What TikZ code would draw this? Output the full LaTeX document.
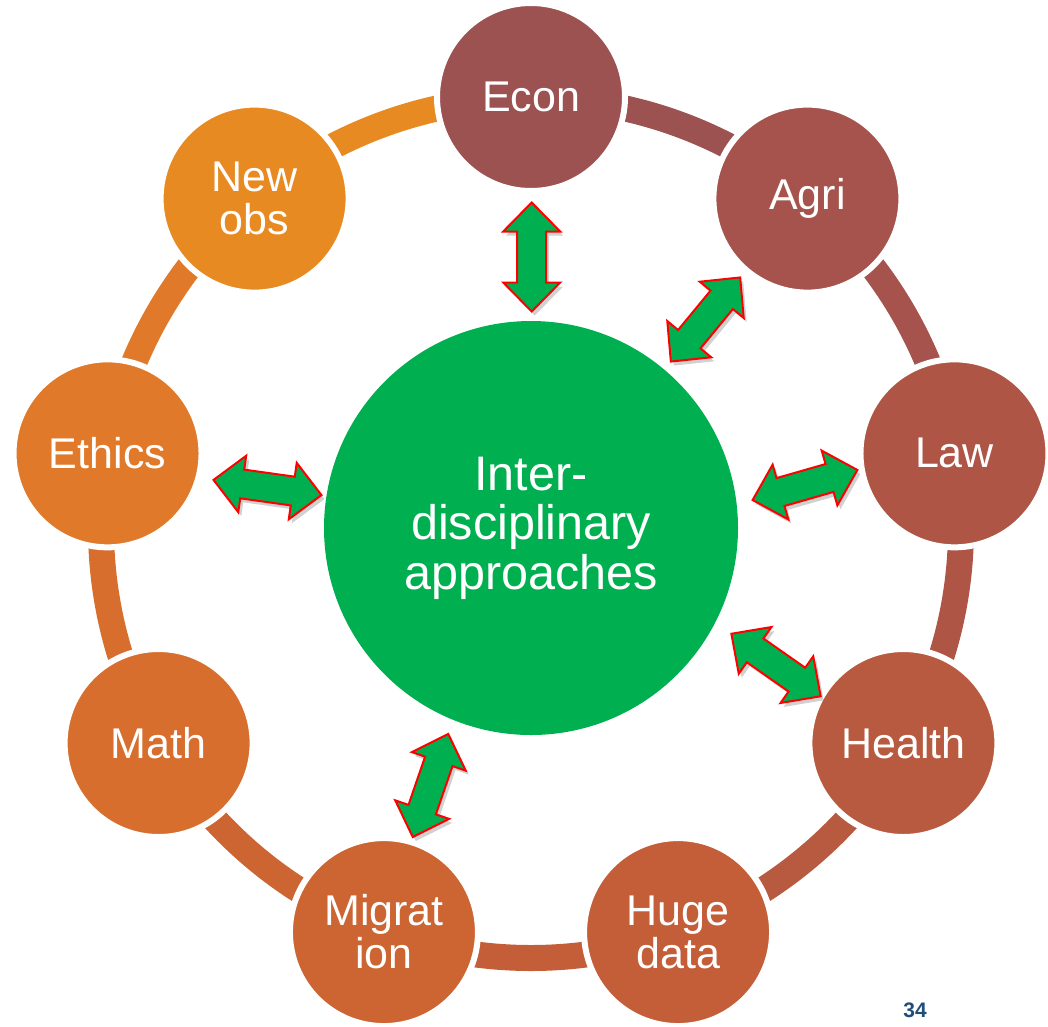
\documentclass[tikz,border=0pt]{standalone}
\usepackage{fontspec}
\setmainfont{Liberation Sans}
\definecolor{cEcon}{HTML}{9D5252}
\definecolor{cAgri}{HTML}{A5534C}
\definecolor{cLaw}{HTML}{AE5546}
\definecolor{cHealth}{HTML}{B85A40}
\definecolor{cHuge}{HTML}{C35E38}
\definecolor{cMigr}{HTML}{CC6532}
\definecolor{cMath}{HTML}{D76E2D}
\definecolor{cEthics}{HTML}{E07A2A}
\definecolor{cNewobs}{HTML}{E88A22}
\definecolor{cCenter}{HTML}{00B050}
\definecolor{cPage}{HTML}{1F4E79}
\tikzset{
  ringseg/.style={line width=26pt},
  outer/.style={circle, minimum size=188pt, inner sep=0pt, draw=white, line width=6pt,
    text=white, align=center, font=\fontsize{43}{43}\selectfont},
  hub/.style={circle, minimum size=414pt, inner sep=0pt, fill=cCenter,
    text=white, align=center, font=\fontsize{48.5}{49.5}\selectfont},
  dblpath/.style={insert path={(54.5,0) -- (25.5,28.5) -- (25.5,14.5) -- (-25.5,14.5) -- (-25.5,28.5) -- (-54.5,0) -- (-25.5,-28.5) -- (-25.5,-14.5) -- (25.5,-14.5) -- (25.5,-28.5) -- cycle}},
  blockarrow/.style={fill=cCenter, draw=red, line width=2pt, line join=miter},
  arrowshadow/.style={fill=black, opacity=0.18, draw=none},
  pagenum/.style={text=cPage, font=\fontsize{21}{22}\selectfont\bfseries, inner sep=0pt}
}
\begin{document}
\begin{tikzpicture}[x=1pt, y=1pt]
\useasboundingbox (0,0) rectangle (1048,-1026);
\coordinate (O) at (531,-528);
\begin{scope}[shift={(531,-528)}]
  \coordinate (pEcon) at (90:430);
  \coordinate (pAgri) at (50:430);
  \coordinate (pLaw) at (10:430);
  \coordinate (pHealth) at (-30:430);
  \coordinate (pHuge) at (-70:430);
  \coordinate (pMigr) at (-110:430);
  \coordinate (pMath) at (-150:430);
  \coordinate (pEthics) at (170:430);
  \coordinate (pNewobs) at (130:430);
\end{scope}
% ring segments
\draw[ringseg, cEcon] (pEcon) arc[start angle=90, end angle=50, radius=430pt];
\draw[ringseg, cAgri] (pAgri) arc[start angle=50, end angle=10, radius=430pt];
\draw[ringseg, cLaw] (pLaw) arc[start angle=10, end angle=-30, radius=430pt];
\draw[ringseg, cHealth] (pHealth) arc[start angle=-30, end angle=-70, radius=430pt];
\draw[ringseg, cHuge] (pHuge) arc[start angle=-70, end angle=-110, radius=430pt];
\draw[ringseg, cMigr] (pMigr) arc[start angle=-110, end angle=-150, radius=430pt];
\draw[ringseg, cMath] (pMath) arc[start angle=-150, end angle=-190, radius=430pt];
\draw[ringseg, cEthics] (pEthics) arc[start angle=170, end angle=130, radius=430pt];
\draw[ringseg, cNewobs] (pNewobs) arc[start angle=130, end angle=90, radius=430pt];
% outer circles
\node[outer, fill=cEcon] (econ) at ([yshift=1pt]pEcon) {Econ};
\node[outer, fill=cAgri] (agri) at (pAgri) {Agri};
\node[outer, fill=cLaw] (law) at (pLaw) {Law};
\node[outer, fill=cHealth] (health) at (pHealth) {Health};
\node[outer, fill=cHuge] (huge) at (pHuge) {Huge\\data};
\node[outer, fill=cMigr] (migr) at (pMigr) {Migrat\\ion};
\node[outer, fill=cMath] (math) at (pMath) {Math};
\node[outer, fill=cEthics] (ethics) at (pEthics) {Ethics};
\node[outer, fill=cNewobs] (newobs) at (pNewobs) {New\\obs};
% hub
\node[hub] (hub) at (O) {Inter-\\disciplinary\\approaches};
% block arrows (shadow, then arrow)
\foreach \x/\y/\r in {531.7/-257/90, 705.5/-319.5/50.5, 805/-485/16, 776/-665/-35, 430.5/-785.5/71, 267.5/-487.5/-8}{
  \path[arrowshadow, shift={(\x+3,\y-4)}, rotate=\r, dblpath];
  \path[blockarrow, shift={(\x,\y)}, rotate=\r, dblpath];
}
% page number
\node[pagenum] (page) at (915,-1010) {34};
\end{tikzpicture}
\end{document}
